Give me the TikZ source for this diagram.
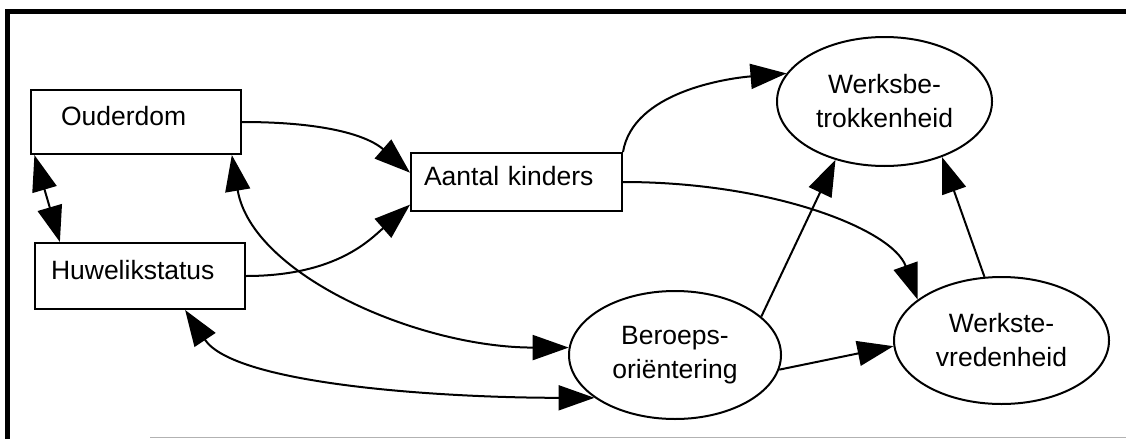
\documentclass[tikz,border=0pt]{standalone}
\usepackage{fontspec}
\setmainfont{Liberation Sans}
\usetikzlibrary{arrows.meta,shapes.geometric}
\begin{document}
\begin{tikzpicture}[x=1pt,y=-1pt,
  lbl/.style={font=\fontsize{26.5}{34}\selectfont},
  box/.style={draw,line width=2pt,rectangle,align=left,inner ysep=0pt,text height=19pt,text depth=13pt,lbl},
  ell/.style={draw,line width=2pt,ellipse,inner sep=0pt,align=center,lbl},
  conn/.style={line width=2pt,-{Triangle[length=36pt,width=25pt]}},
  biconn/.style={line width=2pt,{Triangle[length=36pt,width=25pt]}-{Triangle[length=36pt,width=25pt]}},
]
\useasboundingbox (0,0) rectangle (1126,439);
% frame
\draw[line width=5pt] (1126,11) -- (7.5,11) -- (7.5,439);
\draw[gray!60, line width=1.2pt] (150,437.5) -- (1126,437.5);

% nodes
\node[box, inner xsep=30pt, text width=150pt, minimum height=64pt] (od) at (136,122) {Ouderdom};
\node[box, inner xsep=16pt, text width=178pt, minimum height=66pt] (hw) at (140,276) {Huwelikstatus};
\node[box, inner xsep=13pt, text width=185pt, minimum height=58pt] (ak) at (516.5,182) {Aantal kinders};
\node[ell, minimum width=215pt, minimum height=129pt] (wb) at (884.5,101.5) {Werksbe-\\trokkenheid};
\node[ell, minimum width=212pt, minimum height=128pt] (be) at (675,355) {Beroeps-\\oriëntering};
\node[ell, minimum width=215pt, minimum height=127pt] (ws) at (1001.5,340.5) {Werkste-\\vredenheid};

% connectors
\draw[conn] (od.east) .. controls +(90,0) and +(-40,-35) .. (ak.175);
\draw[conn] (hw.east) .. controls +(90,0) and +(-40,35) .. (ak.192);
\draw[biconn] (od.198) -- (hw.157);
\draw[biconn] (od.-19) .. controls +(20,120) and +(-150,0) .. (be.176);
\draw[biconn] (hw.-37) .. controls +(50,75) and +(-150,0) .. (be.208);
\draw[conn] (ak.north east) .. controls +(10,-60) and +(-60,5) .. (wb.164);
\draw[conn] (ak.east) .. controls +(150,0) and +(-25,-70) .. (ws.154);
\draw[conn] (be.24) -- (wb.230);
\draw[conn] (be.-8) -- (ws.183);
\draw[conn] (ws.105) -- (wb.-44);
\end{tikzpicture}
\end{document}
